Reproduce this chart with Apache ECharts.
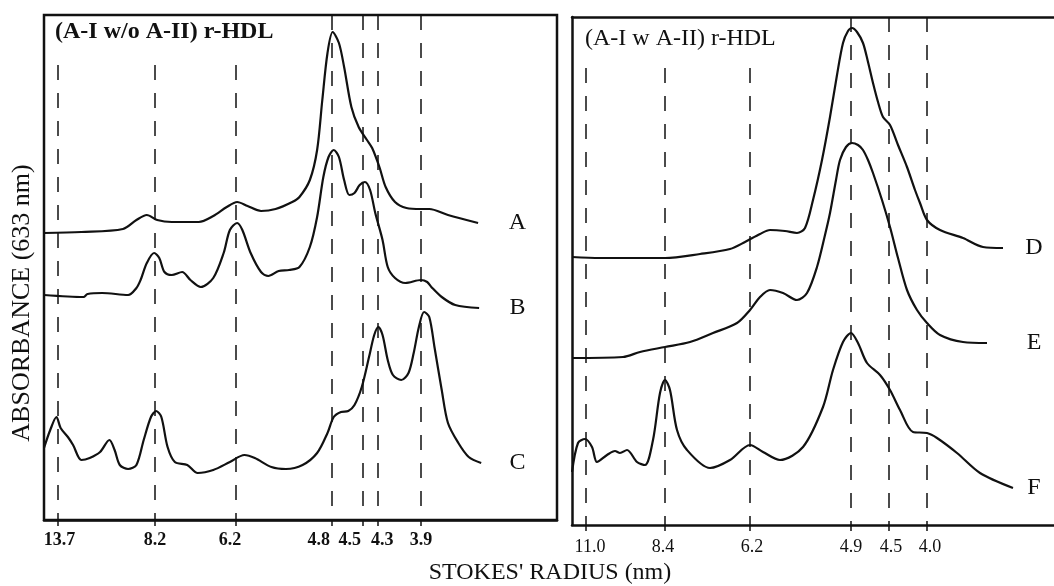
<!DOCTYPE html>
<html>
<head>
<meta charset="utf-8">
<script src="https://cdn.jsdelivr.net/npm/echarts@6/dist/echarts.min.js"></script>
<style>
html,body{margin:0;padding:0;background:#fff}
#chart{width:1054px;height:586px}
</style>
</head>
<body>
<div id="chart"></div>
<script>
// densitometric scans, [migration distance, absorbance] in arbitrary units
// (A-I w/o A-II) r-HDL
var scanA = [[0,287],[36,288],[76,291],[89,300],[99,305],[109,300],[123,298],[149,298],[163,304],[176,313],[186,318],[196,314],[209,309],[223,311],[239,318],[246,323],[256,340],[263,370],[268,420],[273,467],[278,488],[284,477],[289,453],[296,413],[303,393],[311,380],[316,372],[323,353],[329,333],[338,318],[349,312],[363,311],[371,311],[389,305],[418,297]];
var scanB = [[0,225],[38,223],[42,226],[56,227],[81,225],[89,232],[93,240],[99,257],[106,267],[111,262],[116,248],[123,245],[133,248],[141,240],[151,233],[163,242],[173,267],[179,290],[186,297],[191,290],[199,267],[209,248],[216,244],[226,249],[236,250],[246,253],[256,273],[263,303],[269,343],[274,363],[279,370],[284,363],[289,340],[294,325],[299,327],[304,335],[309,338],[314,330],[319,307],[326,280],[331,253],[338,242],[348,237],[363,240],[369,238],[373,233],[383,223],[396,215],[419,212]];
var scanC = [[0,72],[6,90],[12,103],[16,92],[23,83],[28,75],[36,60],[44,62],[54,68],[63,80],[68,70],[73,55],[81,51],[89,55],[96,80],[103,103],[108,109],[113,103],[119,73],[126,58],[138,55],[148,47],[163,50],[179,58],[193,65],[203,62],[219,53],[233,51],[249,55],[263,67],[273,87],[279,103],[286,108],[293,109],[299,115],[306,133],[313,163],[318,185],[322,193],[326,185],[331,160],[336,145],[344,140],[351,147],[356,167],[361,193],[366,208],[371,203],[376,173],[383,130],[389,97],[399,77],[409,63],[421,57]];
// (A-I w A-II) r-HDL
var scanD = [[0,268],[28,267],[93,267],[128,271],[158,276],[173,283],[188,291],[198,295],[213,294],[225,292],[233,297],[241,325],[250,365],[258,408],[265,450],[271,482],[276,494],[280,497],[285,493],[291,482],[296,463],[301,442],[306,423],[311,408],[318,400],[326,380],[335,358],[343,335],[348,322],[355,305],[368,295],[391,287],[411,278],[431,277]];
var scanE = [[0,167],[51,168],[68,173],[93,178],[118,183],[141,192],[165,202],[178,215],[188,228],[198,235],[211,232],[225,225],[235,232],[245,258],[253,290],[258,312],[264,345],[268,365],[274,378],[280,382],[286,380],[291,375],[296,365],[301,352],[310,325],[318,298],[326,267],[335,235],[345,215],[355,202],[368,190],[391,183],[415,182]];
var scanF = [[0,53],[6,82],[13,86],[20,78],[25,63],[35,70],[43,74],[48,72],[55,75],[65,63],[73,60],[81,85],[88,132],[93,145],[98,135],[105,95],[115,75],[138,57],[158,65],[178,80],[191,73],[208,65],[231,78],[251,118],[261,155],[271,183],[279,192],[286,182],[295,162],[308,150],[318,135],[328,115],[341,93],[355,92],[365,87],[385,72],[408,52],[441,37]];

// Stokes' radius markers (migration distance) and their labels
var leftMarks = [13, 107, 185, 277, 307, 321, 363];
var leftMarkLabels = ['13.7', '8.2', '6.2', '4.8', '4.5', '4.3', '3.9'];
var rightMarks = [14, 93, 178, 279, 317, 355];
var rightMarkLabels = ['11.0', '8.4', '6.2', '4.9', '4.5', '4.0'];

var SERIF = '"Liberation Serif", "Times New Roman", serif';
var INK = '#111';

var panels = [
    {title: '(A-I w/o A-II) r-HDL', titleBold: true, tl: 55, tt: 20,
     grid: {left: 44, top: 15, width: 513, height: 505}, box: true, xMax: 494, yMax: 505,
     marks: leftMarks, labels: leftMarkLabels, shift: [2, 0, -6, -13, -13, 5, 0], labelBold: true,
     clear: 221, dashTop: 455, letterX: 456, labelMargin: 11,
     curves: [['A', scanA], ['B', scanB], ['C', scanC]]},
    {title: '(A-I w A-II) r-HDL', titleBold: false, tl: 585, tt: 27,
     grid: {left: 572, top: 17, width: 482, height: 508}, box: false, xMax: 482, yMax: 508,
     marks: rightMarks, labels: rightMarkLabels, shift: [4, -2, 2, 0, 2, 3], labelBold: false,
     clear: 208, dashTop: 457, letterX: 462, labelMargin: 13,
     curves: [['D', scanD], ['E', scanE], ['F', scanF]]}
];

var myChart = echarts.init(document.getElementById('chart'));

var frameLine = {show: true, lineStyle: {color: INK, width: 2.5}};
var grids = [], xAxes = [], yAxes = [], series = [], titles = [], extraX = [];
panels.forEach(function (p, gi) {
    grids.push({left: p.grid.left, top: p.grid.top, width: p.grid.width, height: p.grid.height,
        show: p.box, borderColor: INK, borderWidth: 2.5, backgroundColor: 'transparent'});
    var rich = {};
    p.shift.forEach(function (s, i) {
        rich['t' + i] = {fontFamily: SERIF, fontSize: 18, color: INK,
            fontWeight: p.labelBold ? 'bold' : 'normal',
            padding: s < 0 ? [0, -2 * s, 0, 0] : [0, 0, 0, 2 * s]};
    });
    xAxes.push({
        type: 'value', gridIndex: gi, min: 0, max: p.xMax,
        axisLine: frameLine,
        axisTick: {show: true, customValues: p.marks, length: 6, lineStyle: {color: INK, width: 1.5}},
        axisLabel: {show: true, customValues: p.marks, margin: p.labelMargin,
            formatter: function (v) {
                var i = p.marks.indexOf(v);
                return i < 0 ? '' : '{t' + i + '|' + p.labels[i] + '}';
            },
            rich: rich},
        splitLine: {show: false}
    });
    // open frame (top and left edges) for the panel that runs off the page
    if (!p.box) {
        extraX.push({type: 'value', gridIndex: gi, min: 0, max: p.xMax, position: 'top',
            axisLine: frameLine, axisTick: {show: false}, axisLabel: {show: false}, splitLine: {show: false}});
    }
    yAxes.push({type: 'value', gridIndex: gi, min: 0, max: p.yMax, show: !p.box,
        axisLine: frameLine, axisTick: {show: false}, axisLabel: {show: false}, splitLine: {show: false}});
    titles.push({text: p.title, left: p.tl, top: p.tt, padding: 0,
        textStyle: {fontFamily: SERIF, fontSize: 24, fontWeight: p.titleBold ? 'bold' : 'normal', color: INK}});

    p.curves.forEach(function (c, ci) {
        var data = c[1];
        var s = {
            name: c[0], type: 'line', xAxisIndex: gi, yAxisIndex: gi,
            data: data, showSymbol: false, smooth: 0.3, silent: true, animation: false,
            lineStyle: {color: INK, width: 2.2},
            markPoint: {
                symbolSize: 0, silent: true, animation: false,
                label: {show: true, position: 'inside', formatter: c[0],
                    fontFamily: SERIF, fontSize: 24, color: INK},
                data: [{coord: [p.letterX, data[data.length - 1][1]]}]
            }
        };
        if (ci === 0) {
            s.markLine = {
                symbol: ['none', 'none'], silent: true, animation: false,
                label: {show: false},
                lineStyle: {color: INK, width: 1.5, type: [15, 13]},
                data: p.marks.map(function (m) {
                    return [{coord: [m, m < p.clear ? p.dashTop : p.yMax]}, {coord: [m, 0]}];
                })
            };
        }
        series.push(s);
    });
});

option = {
    backgroundColor: '#fff',
    animation: false,
    title: titles,
    grid: grids,
    xAxis: xAxes.concat(extraX),
    yAxis: yAxes,
    series: series,
    graphic: [
        {type: 'text', x: 550, y: 573, style: {text: "STOKES' RADIUS (nm)", font: '24px ' + SERIF,
            fill: INK, align: 'center', verticalAlign: 'middle'}},
        {type: 'text', x: 22, y: 303, rotation: Math.PI / 2, style: {text: 'ABSORBANCE (633 nm)',
            font: '26px ' + SERIF, fill: INK, align: 'center', verticalAlign: 'middle'}}
    ]
};
myChart.setOption(option);
</script>
</body>
</html>
